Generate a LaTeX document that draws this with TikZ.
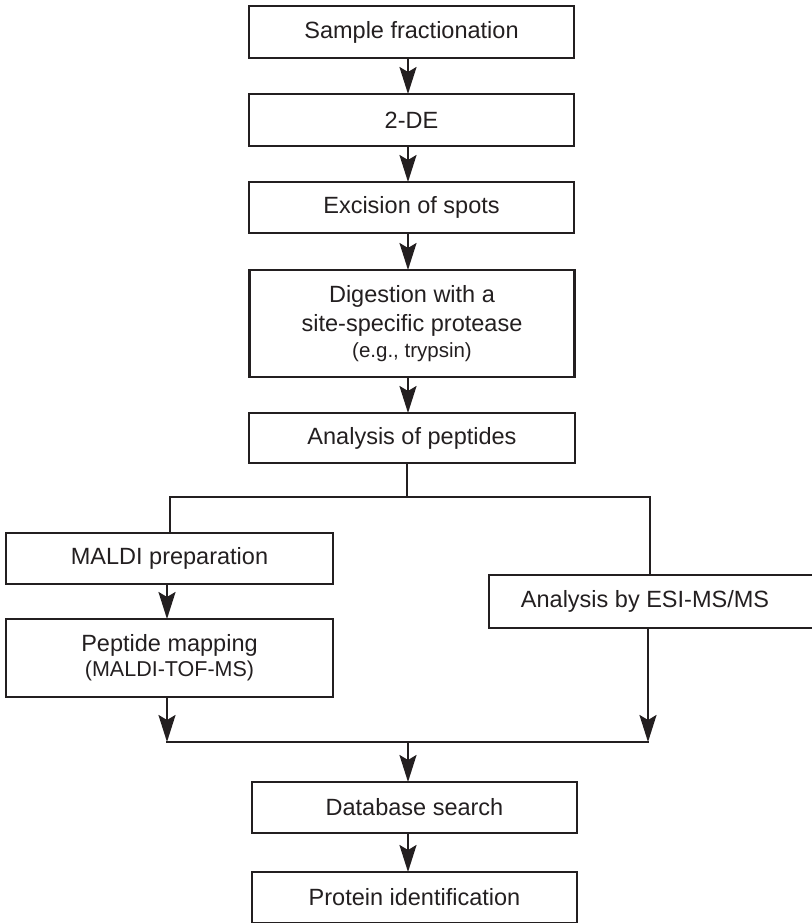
\documentclass[tikz,border=0pt]{standalone}
\usepackage{fontspec}
\setmainfont{Liberation Sans}
\usetikzlibrary{arrows.meta,calc}
\definecolor{ink}{HTML}{231F20}
\begin{document}
\begin{tikzpicture}[x=1pt,y=-1pt,
  box/.style={draw=ink, line width=2.5pt, rectangle, inner sep=0pt, outer sep=0pt,
    minimum width=325pt, minimum height=52pt, align=center,
    font=\fontsize{23.5}{29}\selectfont, text=ink},
  txt/.style={inner sep=0pt, outer sep=0pt, align=center, font=\fontsize{23.5}{29}\selectfont, text=ink},
  con/.style={draw=ink, line width=2.3pt},
  arr/.style={con, -{Stealth[length=27pt,width=17pt,inset=5pt]}}]
\useasboundingbox (0,0) rectangle (811,923);
% main column
\node[box] (s1) at (411.5,32) {Sample fractionation};
\node[box] (s2) at (411.5,120) {2-DE};
\node[box, minimum height=51pt] (s3) at (411.5,207.5) {Excision of spots};
\node[box, minimum height=107pt] (s4) at (412,323.5) {Digestion with a\\site-specific protease\\[-3pt]{\fontsize{20.5}{24}\selectfont (e.g., trypsin)}};
\node[box, minimum height=50pt, minimum width=326pt] (s5) at (412,438) {Analysis of peptides};
% branches
\node[box, minimum width=327pt, minimum height=51pt] (m1) at (169.5,558.5) {MALDI preparation};
\node[box, minimum width=327pt, minimum height=78pt] (m2) at (169.5,658) {Peptide mapping\\[-4pt]{\fontsize{21.5}{24}\selectfont (MALDI-TOF-MS)}};
\node[box, minimum width=345pt, minimum height=53pt] (e1) at (661.5,601.5) {};
\node[txt] (e1t) at (645,601.5) {Analysis by ESI-MS/MS};
% bottom
\node[box, minimum height=51pt] (d1) at (414.5,807.5) {Database search};
\node[box, minimum height=51pt] (d2) at (414.5,897.5) {Protein identification};
% coordinates
\coordinate (ax) at (408,0);
\coordinate (b) at (407,497);
\coordinate (bl) at (170,497);
\coordinate (br) at (650,497);
\coordinate (jl) at (167,742);
\coordinate (jr) at (648,742);
\coordinate (j) at (408,742);
% connectors
\draw[arr] (s1.south -| ax) -- (s2.north -| ax);
\draw[arr] (s2.south -| ax) -- (s3.north -| ax);
\draw[arr] (s3.south -| ax) -- (s4.north -| ax);
\draw[arr] (s4.south -| ax) -- (s5.north -| ax);
\draw[con] (s5.south -| b) -- (b);
\draw[con, line cap=rect] (bl) -- (br);
\draw[con] (bl) -- (bl |- m1.north);
\draw[con] (br) -- (br |- e1.north);
\draw[arr] (m1.south -| jl) -- (m2.north -| jl);
\draw[arr] (m2.south -| jl) -- (jl);
\draw[arr] (e1.south -| jr) -- (jr);
\draw[con, line cap=rect] (jl) -- (jr);
\draw[arr] (j) -- (d1.north -| j);
\draw[arr] (d1.south -| ax) -- (d2.north -| ax);
\end{tikzpicture}
\end{document}
